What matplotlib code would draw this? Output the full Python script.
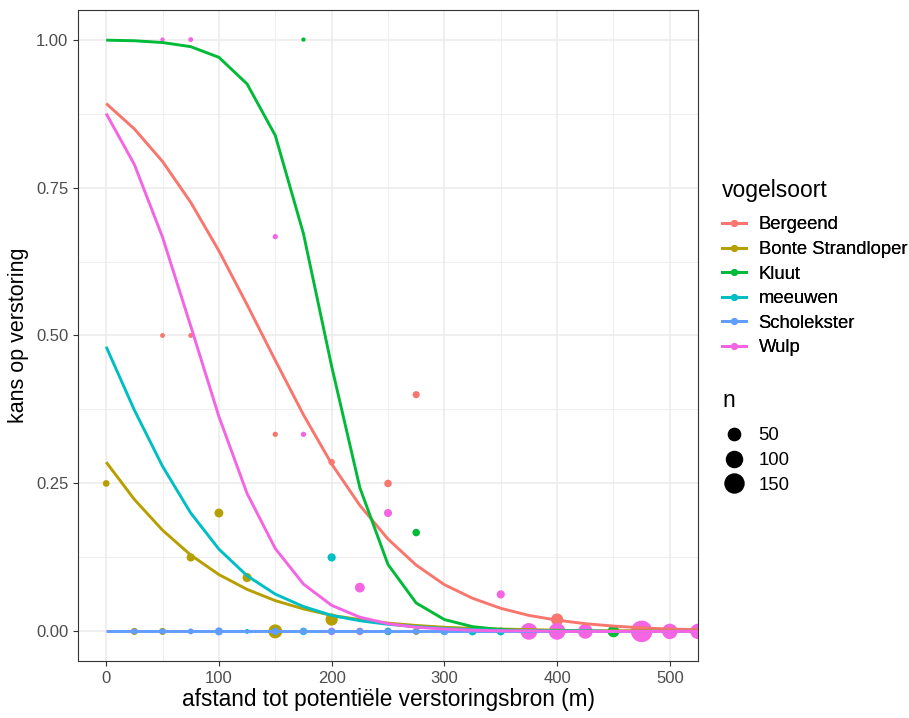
import numpy as np
import matplotlib
matplotlib.use('Agg')
from matplotlib import pyplot as plt
from matplotlib.lines import Line2D

plt.rcParams['font.family'] = ['Liberation Sans', 'DejaVu Sans']

species = ['Bergeend', 'Bonte Strandloper', 'Kluut', 'meeuwen', 'Scholekster', 'Wulp']
colors = ['#F8766D', '#B79F00', '#00BA38', '#00BFC4', '#619CFF', '#F564E3']

# fitted curves
dist = [0, 25, 50, 75, 100, 125, 150, 175, 200, 225, 250,
        275, 300, 325, 350, 375, 400, 425, 450, 475, 500, 525]
fit_bergeend = [0.892, 0.849, 0.794, 0.725, 0.643, 0.552, 0.458, 0.366, 0.283, 0.213, 0.156,
                0.112, 0.079, 0.056, 0.039, 0.027, 0.019, 0.013, 0.009, 0.006, 0.004, 0.003]
fit_bonte = [0.286, 0.223, 0.171, 0.129, 0.096, 0.071, 0.052, 0.038, 0.027, 0.020, 0.014,
             0.010, 0.007, 0.005, 0.004, 0.003, 0.002, 0.001, 0.001, 0.001, 0.000, 0.000]
fit_kluut = [0.999, 0.998, 0.995, 0.988, 0.970, 0.925, 0.838, 0.672, 0.448, 0.243, 0.113,
             0.048, 0.020, 0.008, 0.003, 0.001, 0.000, 0.000, 0.000, 0.000, 0.000, 0.000]
fit_meeuwen = [0.481, 0.374, 0.279, 0.200, 0.139, 0.094, 0.063, 0.042, 0.027, 0.018, 0.012,
               0.008, 0.005, 0.003, 0.002, 0.001, 0.001, 0.001, 0.000, 0.000, 0.000, 0.000]
fit_scholekster = [0.0, 0.0, 0.0, 0.0, 0.0, 0.0, 0.0, 0.0, 0.0, 0.0, 0.0,
                   0.0, 0.0, 0.0, 0.0, 0.0, 0.0, 0.0, 0.0, 0.0, 0.0, 0.0]
fit_wulp = [0.875, 0.789, 0.666, 0.516, 0.363, 0.233, 0.140, 0.080, 0.044, 0.024, 0.013,
            0.007, 0.004, 0.002, 0.001, 0.001, 0.000, 0.000, 0.000, 0.000, 0.000, 0.000]

# observed proportions per distance, with sample size n
bergeend_x = [50, 75, 150, 200, 225, 250, 275, 400]
bergeend_p = [0.5, 0.5, 0.333, 0.286, 0.0, 0.25, 0.4, 0.02]
bergeend_n = [2, 2, 3, 7, 12, 12, 10, 50]

bonte_x = [0, 25, 50, 75, 100, 125, 150, 200, 275]
bonte_p = [0.25, 0.0, 0.0, 0.125, 0.2, 0.091, 0.0, 0.02, 0.0]
bonte_n = [8, 10, 10, 16, 20, 22, 70, 50, 10]

kluut_x = [175, 250, 275, 450]
kluut_p = [1.0, 0.0, 0.167, 0.0]
kluut_n = [1, 12, 12, 45]

meeuwen_x = [125, 175, 200, 300, 325, 350]
meeuwen_p = [0.0, 0.0, 0.125, 0.0, 0.0, 0.0]
meeuwen_n = [2, 12, 16, 12, 15, 15]

wulp_x = [50, 75, 150, 175, 200, 225, 250, 350, 375, 400, 425, 475, 500, 525]
wulp_p = [1.0, 1.0, 0.667, 0.333, 0.0, 0.074, 0.2, 0.0625, 0.0, 0.0, 0.0, 0.0, 0.0, 0.0]
wulp_n = [1, 2, 3, 3, 12, 27, 15, 16, 110, 110, 80, 200, 90, 90]

scholekster_x = [25, 50, 75, 100, 150, 175, 200, 225, 250, 275, 300]
scholekster_p = [0.0, 0.0, 0.0, 0.0, 0.0, 0.0, 0.0, 0.0, 0.0, 0.0, 0.0]
scholekster_n = [5, 5, 5, 15, 12, 8, 8, 8, 8, 6, 10]

size_breaks = [50, 100, 150]


def marker_area(n):
    d_px = 3 + 18.5 * np.sqrt(np.asarray(n) / 200)
    return (d_px * 0.72) ** 2


def main():
    fig = plt.figure(figsize=(9.09, 7.18), dpi=100)
    ax = fig.add_axes([0.0858, 0.0794, 0.6821, 0.9067])

    # points first, Scholekster on top
    pts = [
        (bergeend_x, bergeend_p, bergeend_n, colors[0]),
        (bonte_x, bonte_p, bonte_n, colors[1]),
        (kluut_x, kluut_p, kluut_n, colors[2]),
        (meeuwen_x, meeuwen_p, meeuwen_n, colors[3]),
        (wulp_x, wulp_p, wulp_n, colors[5]),
        (scholekster_x, scholekster_p, scholekster_n, colors[4]),
    ]
    for x, p, n, c in pts:
        ax.scatter(x, p, s=marker_area(n), color=c, linewidths=0, zorder=2)

    fits = [fit_bergeend, fit_bonte, fit_kluut, fit_meeuwen, fit_scholekster, fit_wulp]
    for fit, c in zip(fits, colors):
        ax.plot(dist, fit, color=c, lw=2.1, zorder=3, solid_capstyle='butt')

    ax.set_xlim(-25, 525)
    ax.set_ylim(-0.05, 1.05)
    ax.set_xticks([0, 100, 200, 300, 400, 500])
    ax.set_xticks([50, 150, 250, 350, 450], minor=True)
    ax.set_yticks([0, 0.25, 0.5, 0.75, 1.0])
    ax.set_yticklabels(['0.00', '0.25', '0.50', '0.75', '1.00'])
    ax.set_yticks([0.125, 0.375, 0.625, 0.875], minor=True)
    ax.grid(which='major', color='#EBEBEB', lw=1.1, zorder=0)
    ax.grid(which='minor', color='#EBEBEB', lw=0.6, zorder=0)
    ax.set_axisbelow(True)
    ax.tick_params(which='major', length=3.5, width=0.8, color='#333333',
                   labelcolor='#4D4D4D', labelsize=12)
    ax.tick_params(which='minor', length=0)
    for sp in ax.spines.values():
        sp.set_color('#333333')
        sp.set_linewidth(0.8)

    ax.set_xlabel('afstand tot potentiële verstoringsbron (m)', fontsize=16.3, labelpad=2)
    ax.set_ylabel('kans op verstoring', fontsize=15.5, labelpad=5)

    # colour legend
    fig.text(0.7943, 0.7256, 'vogelsoort', fontsize=16.5, va='baseline')
    handles = [Line2D([], [], color=c, lw=2.1, marker='o', markersize=4) for c in colors]
    leg1 = fig.legend(handles, species, loc='upper left',
                      bbox_to_anchor=(0.7943, 0.6985), frameon=False, fontsize=13.3,
                      handlelength=1.3, handletextpad=0.68, labelspacing=0.41,
                      borderpad=0, borderaxespad=0)
    fig.add_artist(leg1)

    # size legend
    fig.text(0.7943, 0.4331, 'n', fontsize=16.5, va='baseline')
    size_handles = [Line2D([], [], ls='', marker='o', color='black',
                           markersize=np.sqrt(marker_area(b))) for b in size_breaks]
    fig.legend(size_handles, [str(b) for b in size_breaks], loc='upper left',
               bbox_to_anchor=(0.7943, 0.4046), frameon=False, fontsize=13.3,
               handlelength=1.3, handletextpad=0.68, labelspacing=0.41,
               borderpad=0, borderaxespad=0)

    fig.savefig('out.png', dpi=100)


if __name__ == '__main__':
    main()
